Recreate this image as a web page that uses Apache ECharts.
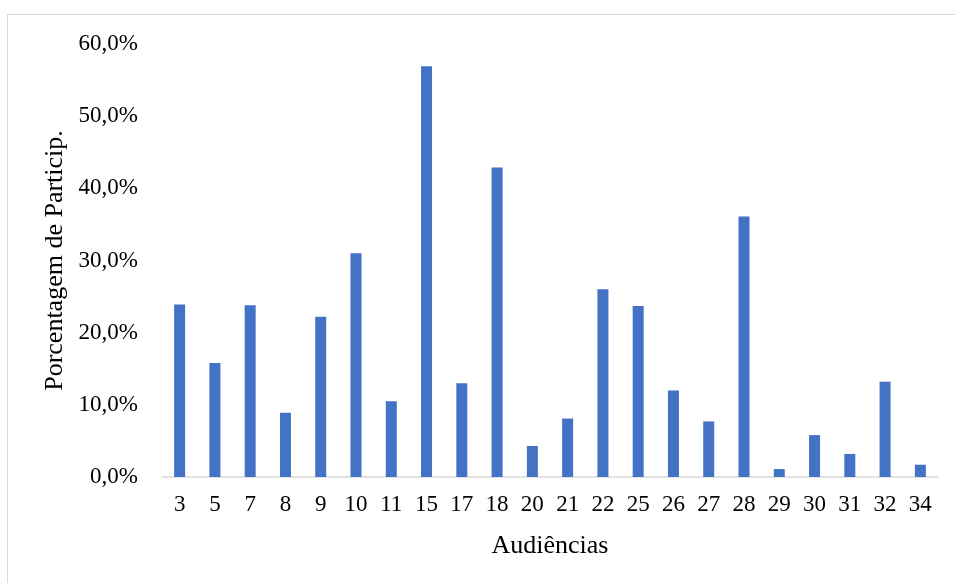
<!DOCTYPE html>
<html lang="pt">
<head>
  <meta charset="utf-8">
  <title>Porcentagem de Particip.</title>
  <script src="https://cdn.jsdelivr.net/npm/echarts@6/dist/echarts.min.js"></script>
  <style>
    html, body { margin: 0; padding: 0; background: #fff; }
    #chart { width: 955px; height: 583px; }
  </style>
</head>
<body>
<div id="chart"></div>
<script type="text/javascript">
// audiências e porcentagens
var audiencias = ['3','5','7','8','9','10','11','15','17','18','20','21','22','25','26','27','28','29','30','31','32','34'];
var porcentagem = [23.9, 15.8, 23.8, 8.9, 22.2, 31.0, 10.5, 56.9, 13.0, 42.9, 4.3, 8.1, 26.0, 23.7, 12.0, 7.7, 36.1, 1.1, 5.8, 3.2, 13.2, 1.7];

var fonte = '"Liberation Serif", "Times New Roman", serif';
var myChart = echarts.init(document.getElementById('chart'));

var option = {
  animation: false,
  backgroundColor: '#fff',
  graphic: [{
    type: 'rect',
    shape: { x: 7.5, y: 14.5, width: 1000, height: 1000 },
    style: { fill: 'none', stroke: '#d9d9d9', lineWidth: 1 },
    silent: true
  }],
  grid: { left: 162, right: 17, top: 44, bottom: 106 },
  xAxis: {
    type: 'category',
    data: audiencias,
    name: 'Audiências',
    nameLocation: 'middle',
    nameGap: 56,
    nameTextStyle: { fontFamily: fonte, fontSize: 26, color: '#000' },
    axisLine: { lineStyle: { color: '#d9d9d9', width: 1.5 } },
    axisTick: { show: false },
    axisLabel: { fontFamily: fonte, fontSize: 23, color: '#000', margin: 16, interval: 0 }
  },
  yAxis: {
    type: 'value',
    min: 0,
    max: 60,
    interval: 10,
    name: 'Porcentagem de Particip.',
    nameLocation: 'middle',
    nameGap: 88,
    nameTextStyle: { fontFamily: fonte, fontSize: 26, color: '#000' },
    axisLine: { show: false },
    axisTick: { show: false },
    splitLine: { show: false },
    axisLabel: {
      fontFamily: fonte, fontSize: 23, color: '#000', margin: 24,
      formatter: function (v) { return v.toFixed(1).replace('.', ',') + '%'; }
    }
  },
  series: [{
    type: 'bar',
    data: porcentagem,
    barWidth: 11,
    itemStyle: { color: '#4472c4' }
  }]
};
myChart.setOption(option);
</script>
</body>
</html>
